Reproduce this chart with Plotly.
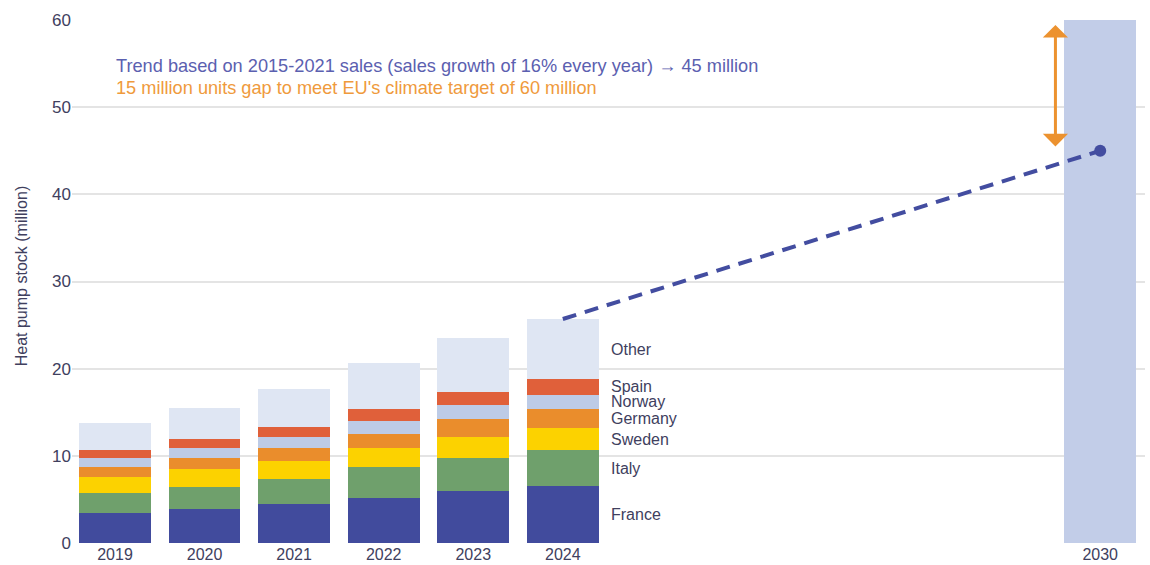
import plotly.graph_objects as go

years = [2019, 2020, 2021, 2022, 2023, 2024]
countries = ["France", "Italy", "Sweden", "Germany", "Norway", "Spain", "Other"]
france = [3.4, 3.85, 4.5, 5.2, 5.95, 6.5]
italy = [2.35, 2.6, 2.9, 3.5, 3.85, 4.2]
sweden = [1.85, 2.0, 2.05, 2.25, 2.4, 2.45]
germany = [1.1, 1.25, 1.4, 1.6, 2.0, 2.25]
norway = [1.1, 1.2, 1.3, 1.5, 1.6, 1.6]
spain = [0.9, 1.0, 1.2, 1.3, 1.55, 1.8]
other = [3.1, 3.6, 4.3, 5.3, 6.15, 6.9]
series = [france, italy, sweden, germany, norway, spain, other]
colors = ["#414b9d", "#6fa06c", "#fcd200", "#ea8d2c", "#bdcbe6", "#e0603a", "#dfe6f3"]

target_year = [2030]
target_value = [60]

trend_years = [2024, 2030]
trend_values = [25.7, 45]

gap_low, gap_high = 45.5, 59.6
gap_x = 2029.5

tick_years = years + target_year

text_color = "#40405e"
font_family = "Liberation Sans, Arial, sans-serif"

fig = go.Figure()
for name, vals, col in zip(countries, series, colors):
    fig.add_trace(go.Bar(x=years, y=vals, name=name, marker=dict(color=col, line=dict(width=0)),
                         width=0.8, hoverinfo="skip"))

fig.add_trace(go.Bar(x=target_year, y=target_value, name="2030 target",
                     marker=dict(color="#c2cde8", line=dict(width=0)), width=0.8, hoverinfo="skip"))

fig.add_trace(go.Scatter(x=trend_years, y=trend_values, mode="lines",
                         line=dict(color="#434da0", width=4, dash="14px,9px"), hoverinfo="skip"))
fig.add_trace(go.Scatter(x=[trend_years[-1]], y=[trend_values[-1]], mode="markers",
                         marker=dict(color="#434da0", size=12), hoverinfo="skip"))

annotations = []
# labels next to the 2024 bar
cum = 0
for name, vals in zip(countries, series):
    mid = cum + vals[-1] / 2
    cum += vals[-1]
    annotations.append(dict(x=years[-1] + 0.52, y=mid, xref="x", yref="y", text=name,
                            showarrow=False, xanchor="left", yanchor="middle",
                            font=dict(size=16, color=text_color, family=font_family)))

annotations.append(dict(x=gap_x, y=gap_low, ax=gap_x, ay=gap_high, xref="x", yref="y",
                        axref="x", ayref="y", text="", showarrow=True, arrowhead=1,
                        startarrowhead=1, arrowside="end+start", arrowsize=1.4,
                        startarrowsize=1.4, arrowwidth=3, arrowcolor="#ec922f"))

annotations.append(dict(x=2019 - 0.01, y=54.75, xref="x", yref="y",
                        text="Trend based on 2015-2021 sales (sales growth of 16% every year) → 45 million",
                        showarrow=False, xanchor="left", yanchor="middle",
                        font=dict(size=18.2, color="#5b60b0", family=font_family)))
annotations.append(dict(x=2019 - 0.01, y=52.25, xref="x", yref="y",
                        text="15 million units gap to meet EU's climate target of 60 million",
                        showarrow=False, xanchor="left", yanchor="middle",
                        font=dict(size=18.2, color="#ef9a3c", family=font_family)))

annotations.append(dict(x=0, y=0.51, xref="paper", yref="paper", xshift=-51,
                        text="Heat pump stock (million)", textangle=-90, showarrow=False,
                        xanchor="center", yanchor="middle",
                        font=dict(size=16, color=text_color, family=font_family)))

fig.update_layout(
    width=1150, height=565,
    margin=dict(l=72, r=5, t=20, b=22),
    barmode="stack",
    showlegend=False,
    plot_bgcolor="white",
    paper_bgcolor="white",
    font=dict(family=font_family, color=text_color),
    annotations=annotations,
    xaxis=dict(range=[2018.52, 2030.5], tickvals=tick_years, ticktext=[str(y) for y in tick_years],
               showgrid=False, zeroline=False, showline=False, ticks="", automargin=False,
               tickfont=dict(size=16, color=text_color)),
    yaxis=dict(range=[0, 60], dtick=10, showgrid=True, gridcolor="#e4e4e4", gridwidth=1.5,
               zeroline=False, showline=False, ticks="", automargin=False,
               tickfont=dict(size=17, color=text_color)),
)

fig.write_html("out.html")
